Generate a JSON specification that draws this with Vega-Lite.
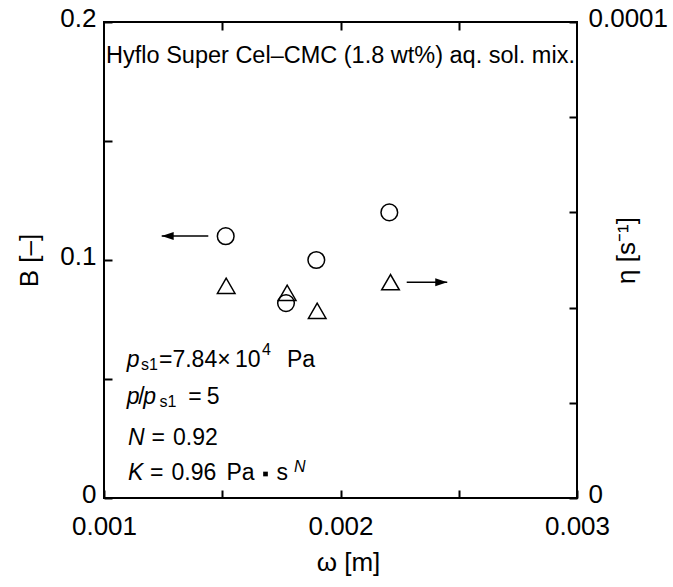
{
  "$schema": "https://vega.github.io/schema/vega-lite/v6.json",
  "width": 473,
  "height": 476,
  "autosize": {"type": "none"},
  "padding": {"left": 104, "top": 22, "right": 96, "bottom": 89},
  "background": "white",
  "config": {
    "font": "Liberation Sans",
    "view": {"stroke": "black", "strokeWidth": 2},
    "axis": {
      "grid": false,
      "domain": false,
      "tickColor": "black",
      "tickWidth": 2,
      "tickSize": -8,
      "labelColor": "black",
      "labelFontSize": 26,
      "labelFont": "Liberation Sans",
      "labelOverlap": false,
      "labelFlush": false,
      "labelBound": false,
      "titleColor": "black",
      "titleFontSize": 26,
      "titleFontWeight": "normal",
      "titleFont": "Liberation Sans"
    }
  },
  "datasets": {
    "circles": [
      {"omega": 0.0015146, "B": 0.110},
      {"omega": 0.0017696, "B": 0.0819},
      {"omega": 0.0018977, "B": 0.100},
      {"omega": 0.0022064, "B": 0.120}
    ],
    "triangles": [
      {"omega": 0.0015167, "eta": 0.00004458},
      {"omega": 0.0017746, "eta": 0.00004311},
      {"omega": 0.0019015, "eta": 0.00003933},
      {"omega": 0.0022114, "eta": 0.00004534}
    ],
    "arrows": [
      {"dir": "left", "tail": 0.001441, "tip": 0.001244, "B": 0.1101},
      {"dir": "right", "tail": 0.00228, "tip": 0.0024513, "B": 0.09063}
    ],
    "header": [
      {"omega": 0.002, "B": 0.18277, "t": "Hyflo Super Cel–CMC (1.8 wt%) aq. sol. mix."}
    ],
    "italic": [
      {"omega": 0.001096, "B": 0.05525, "t": "p"},
      {"omega": 0.001096, "B": 0.0395, "t": "p"},
      {"omega": 0.0011662, "B": 0.0395, "t": "p"},
      {"omega": 0.0011015, "B": 0.02227, "t": "N"},
      {"omega": 0.0011015, "B": 0.007563, "t": "K"}
    ],
    "normal": [
      {"omega": 0.0012326, "B": 0.05525, "t": "=7.84×"},
      {"omega": 0.0015539, "B": 0.05525, "t": "10"},
      {"omega": 0.0017738, "B": 0.05525, "t": "Pa"},
      {"omega": 0.001145, "B": 0.0395, "t": "/"},
      {"omega": 0.0013565, "B": 0.0395, "t": "="},
      {"omega": 0.0014343, "B": 0.0395, "t": "5"},
      {"omega": 0.0012009, "B": 0.02227, "t": "="},
      {"omega": 0.0012918, "B": 0.02227, "t": "0.92"},
      {"omega": 0.0011945, "B": 0.007563, "t": "="},
      {"omega": 0.0012854, "B": 0.007563, "t": "0.96"},
      {"omega": 0.001518, "B": 0.007563, "t": "Pa"},
      {"omega": 0.0017294, "B": 0.007563, "t": "s"}
    ],
    "small": [
      {"omega": 0.0011565, "B": 0.05399, "t": "s1"},
      {"omega": 0.0016681, "B": 0.06029, "t": "4"},
      {"omega": 0.0012347, "B": 0.038235, "t": "s1"}
    ],
    "smallItalic": [
      {"omega": 0.0018034, "B": 0.011134, "t": "N"}
    ],
    "dot": [
      {"omega": 0.0016829, "B": 0.010084}
    ]
  },
  "resolve": {"scale": {"x": "independent", "y": "independent"}},
  "layer": [
    {
      "data": {"name": "circles"},
      "mark": {"type": "point", "shape": "circle", "filled": false, "stroke": "black", "strokeWidth": 1.5, "size": 278, "opacity": 1},
      "encoding": {
        "x": {
          "field": "omega", "type": "quantitative",
          "scale": {"domain": [0.001, 0.003], "nice": false, "zero": false},
          "axis": {
            "orient": "bottom",
            "values": [0.001, 0.0015, 0.002, 0.0025, 0.003],
            "labelExpr": "datum.value == 0.001 ? '0.001' : datum.value == 0.002 ? '0.002' : datum.value == 0.003 ? '0.003' : ''",
            "labelPadding": 23,
            "title": "ω [m]",
            "titleX": 244,
            "titleY": 64,
            "titleBaseline": "middle"
          }
        },
        "y": {
          "field": "B", "type": "quantitative",
          "scale": {"domain": [0, 0.2], "nice": false, "zero": false},
          "axis": {
            "orient": "left",
            "values": [0, 0.05, 0.1, 0.15, 0.2],
            "labelExpr": "datum.value == 0 ? '0' : datum.value == 0.1 ? '0.1' : datum.value == 0.2 ? '0.2' : ''",
            "labelPadding": 16,
            "labelOffset": -4,
            "title": "B [–]",
            "titleAngle": 270,
            "titleX": -75,
            "titleBaseline": "middle"
          }
        }
      }
    },
    {
      "data": {"name": "triangles"},
      "mark": {"type": "point", "shape": "triangle-up", "filled": false, "stroke": "black", "strokeWidth": 1.5, "size": 310, "opacity": 1},
      "encoding": {
        "x": {
          "field": "omega", "type": "quantitative",
          "scale": {"domain": [0.001, 0.003], "nice": false, "zero": false},
          "axis": {
            "orient": "top",
            "values": [0.0015, 0.002, 0.0025],
            "labels": false,
            "title": null
          }
        },
        "y": {
          "field": "eta", "type": "quantitative",
          "scale": {"domain": [0, 0.0001], "nice": false, "zero": false},
          "axis": {
            "orient": "right",
            "values": [0, 0.00002, 0.00004, 0.00006, 0.00008, 0.0001],
            "labelExpr": "datum.value == 0 ? '0' : datum.value == 0.0001 ? '0.0001' : ''",
            "labelPadding": 19,
            "labelOffset": -4,
            "title": "η [s⁻¹]",
            "titleAngle": 270,
            "titleX": 49,
            "titleY": 228,
            "titleBaseline": "middle"
          }
        }
      }
    },
    {
      "data": {"name": "arrows"},
      "mark": {"type": "rule", "stroke": "black", "strokeWidth": 1.5},
      "encoding": {
        "x": {"field": "tail", "type": "quantitative", "scale": {"domain": [0.001, 0.003], "nice": false, "zero": false}, "axis": null},
        "x2": {"field": "tip"},
        "y": {"field": "B", "type": "quantitative", "scale": {"domain": [0, 0.2], "nice": false, "zero": false}, "axis": null}
      }
    },
    {
      "data": {"name": "arrows"},
      "mark": {"type": "point", "filled": true, "fill": "black", "strokeWidth": 0, "size": 144, "opacity": 1},
      "encoding": {
        "x": {"field": "tip", "type": "quantitative", "scale": {"domain": [0.001, 0.003], "nice": false, "zero": false}, "axis": null},
        "y": {"field": "B", "type": "quantitative", "scale": {"domain": [0, 0.2], "nice": false, "zero": false}, "axis": null},
        "shape": {
          "field": "dir", "type": "nominal",
          "scale": {"domain": ["left", "right"], "range": ["M0,0L2,-0.67L2,0.67Z", "M0,0L-2,-0.67L-2,0.67Z"]},
          "legend": null
        }
      }
    },
    {
      "data": {"name": "header"},
      "mark": {"type": "text", "align": "center", "baseline": "alphabetic", "fontSize": 23.5, "color": "black"},
      "encoding": {
        "x": {"field": "omega", "type": "quantitative", "scale": {"domain": [0.001, 0.003], "nice": false, "zero": false}, "axis": null},
        "y": {"field": "B", "type": "quantitative", "scale": {"domain": [0, 0.2], "nice": false, "zero": false}, "axis": null},
        "text": {"field": "t"}
      }
    },
    {
      "data": {"name": "italic"},
      "mark": {"type": "text", "align": "left", "baseline": "alphabetic", "fontSize": 23, "fontStyle": "italic", "color": "black"},
      "encoding": {
        "x": {"field": "omega", "type": "quantitative", "scale": {"domain": [0.001, 0.003], "nice": false, "zero": false}, "axis": null},
        "y": {"field": "B", "type": "quantitative", "scale": {"domain": [0, 0.2], "nice": false, "zero": false}, "axis": null},
        "text": {"field": "t"}
      }
    },
    {
      "data": {"name": "normal"},
      "mark": {"type": "text", "align": "left", "baseline": "alphabetic", "fontSize": 23, "color": "black"},
      "encoding": {
        "x": {"field": "omega", "type": "quantitative", "scale": {"domain": [0.001, 0.003], "nice": false, "zero": false}, "axis": null},
        "y": {"field": "B", "type": "quantitative", "scale": {"domain": [0, 0.2], "nice": false, "zero": false}, "axis": null},
        "text": {"field": "t"}
      }
    },
    {
      "data": {"name": "small"},
      "mark": {"type": "text", "align": "left", "baseline": "alphabetic", "fontSize": 16, "color": "black"},
      "encoding": {
        "x": {"field": "omega", "type": "quantitative", "scale": {"domain": [0.001, 0.003], "nice": false, "zero": false}, "axis": null},
        "y": {"field": "B", "type": "quantitative", "scale": {"domain": [0, 0.2], "nice": false, "zero": false}, "axis": null},
        "text": {"field": "t"}
      }
    },
    {
      "data": {"name": "smallItalic"},
      "mark": {"type": "text", "align": "left", "baseline": "alphabetic", "fontSize": 16, "fontStyle": "italic", "color": "black"},
      "encoding": {
        "x": {"field": "omega", "type": "quantitative", "scale": {"domain": [0.001, 0.003], "nice": false, "zero": false}, "axis": null},
        "y": {"field": "B", "type": "quantitative", "scale": {"domain": [0, 0.2], "nice": false, "zero": false}, "axis": null},
        "text": {"field": "t"}
      }
    },
    {
      "data": {"name": "dot"},
      "mark": {"type": "point", "shape": "square", "filled": true, "fill": "black", "strokeWidth": 0, "size": 22, "opacity": 1},
      "encoding": {
        "x": {"field": "omega", "type": "quantitative", "scale": {"domain": [0.001, 0.003], "nice": false, "zero": false}, "axis": null},
        "y": {"field": "B", "type": "quantitative", "scale": {"domain": [0, 0.2], "nice": false, "zero": false}, "axis": null}
      }
    }
  ]
}
